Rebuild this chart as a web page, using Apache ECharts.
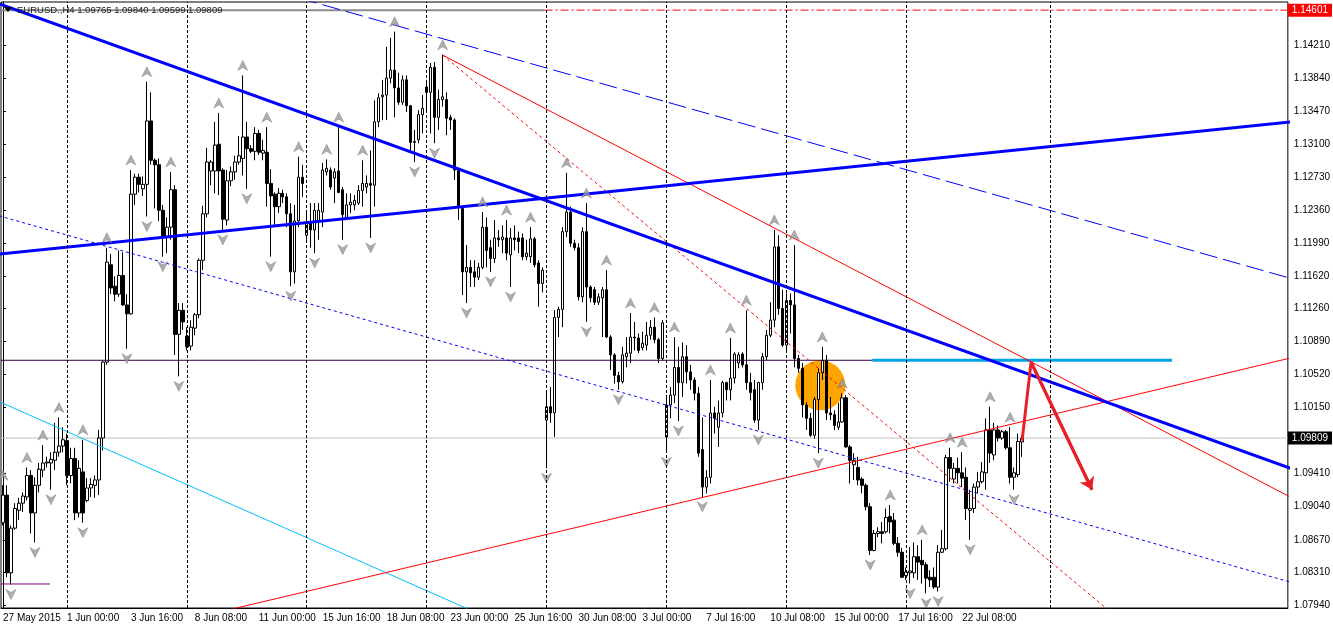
<!DOCTYPE html>
<html><head><meta charset="utf-8">
<script src="https://cdn.jsdelivr.net/npm/echarts@6/dist/echarts.min.js"></script>
<style>html,body{margin:0;padding:0;background:#fff}#c{width:1333px;height:627px}</style>
</head><body><div id="c"></div>
<script>
// ---- EURUSD H4 candles (27 May 2015 08:00 .. 24 Jul 2015 20:00) ----
const opens = [
1.0886,1.0917,1.0830,1.0880,1.0900,1.0908,1.0915,1.0939,1.0897,1.0928,
1.0945,1.0953,1.0953,1.0956,1.0965,1.0972,1.0978,1.0939,1.0958,1.0897,
1.0943,1.0911,1.0925,1.0928,1.0934,1.0981,1.1066,1.1175,1.1151,1.1142,
1.1163,1.1130,1.1120,1.1254,1.1273,1.1260,1.1265,1.1336,1.1292,1.1287,
1.1236,1.1206,1.1217,1.1259,1.1097,1.1124,1.1095,1.1084,1.1104,1.1119,
1.1180,1.1232,1.1280,1.1280,1.1310,1.1281,1.1225,1.1269,1.1279,1.1290,
1.1294,1.1318,1.1305,1.1302,1.1322,1.1300,1.1301,1.1266,1.1254,1.1240,
1.1255,1.1251,1.1232,1.1167,1.1224,1.1273,1.1208,1.1222,1.1214,1.1224,
1.1234,1.1279,1.1281,1.1272,1.1280,1.1259,1.1228,1.1242,1.1242,1.1244,
1.1258,1.1262,1.1266,1.1264,1.1335,1.1363,1.1365,1.1384,1.1393,1.1373,
1.1357,1.1382,1.1353,1.1312,1.1315,1.1343,1.1374,1.1368,1.1396,1.1340,
1.1360,1.1360,1.1340,1.1337,1.1281,1.1238,1.1167,1.1172,1.1167,1.1161,
1.1172,1.1217,1.1194,1.1182,1.1205,1.1203,1.1205,1.1186,1.1205,1.1205,
1.1205,1.1184,1.1184,1.1204,1.1177,1.1154,1.1001,1.1016,1.1009,1.1116,
1.1125,1.1212,1.1234,1.1199,1.1194,1.1139,1.1212,1.1150,1.1147,1.1133,
1.1138,1.1147,1.1094,1.1074,1.1051,1.1044,1.1072,1.1076,1.1094,1.1093,
1.1082,1.1085,1.1096,1.1105,1.1091,1.1070,1.0982,1.1018,1.1029,1.1060,
1.1043,1.1072,1.1055,1.1046,1.1031,1.0968,1.0926,1.0937,1.1009,1.0993,
1.1009,1.1043,1.1035,1.1048,1.1065,1.1075,1.1063,1.1043,1.1035,1.1001,
1.1043,1.1072,1.1096,1.1113,1.1195,1.1126,1.1085,1.1135,1.1130,1.1070,
1.1059,1.1018,1.1003,1.0984,1.1024,1.1054,1.1068,1.1009,1.1007,1.0993,
1.0999,1.1026,1.0971,1.0951,1.0948,1.0935,1.0928,1.0904,1.0855,1.0874,
1.0876,1.0876,1.0893,1.0889,1.0863,1.0853,1.0827,1.0830,1.0830,1.0848,
1.0844,1.0839,1.0825,1.0825,1.0814,1.0853,1.0857,1.0959,1.0935,1.0947,
1.0942,1.0937,1.0900,1.0902,1.0926,1.0932,1.0942,1.0990,1.0962,1.0990,
1.0981,1.0988,1.0970,1.0937,1.0940,1.09765];
const highs = [
1.0928,1.0928,1.0883,1.0908,1.0914,1.0920,1.0948,1.0945,1.0937,1.0953,
1.0973,1.0960,1.0965,1.0998,1.1004,1.0993,1.0986,1.0970,1.0970,1.0956,
1.0979,1.0936,1.0936,1.0939,1.0990,1.1068,1.1194,1.1187,1.1162,1.1191,
1.1189,1.1142,1.1281,1.1277,1.1277,1.1274,1.1380,1.1368,1.1294,1.1294,
1.1242,1.1228,1.1279,1.1264,1.1132,1.1132,1.1105,1.1113,1.1121,1.1182,
1.1241,1.1306,1.1292,1.1335,1.1345,1.1283,1.1281,1.1285,1.1297,1.1319,
1.1387,1.1335,1.1309,1.1329,1.1326,1.1315,1.1329,1.1282,1.1256,1.1261,
1.1259,1.1255,1.1244,1.1242,1.1296,1.1287,1.1234,1.1244,1.1244,1.1244,
1.1289,1.1293,1.1284,1.1283,1.1329,1.1262,1.1255,1.1255,1.1253,1.1264,
1.1292,1.1275,1.1303,1.1359,1.1367,1.1382,1.1419,1.1429,1.1436,1.1390,
1.1387,1.1387,1.1354,1.1326,1.1348,1.1365,1.1382,1.1401,1.1402,1.1371,
1.1410,1.1368,1.1343,1.1339,1.1284,1.1240,1.1197,1.1180,1.1180,1.1177,
1.1234,1.1228,1.1203,1.1225,1.1214,1.1219,1.1225,1.1216,1.1219,1.1212,
1.1210,1.1203,1.1217,1.1206,1.1180,1.1172,1.1032,1.1038,1.1124,1.1128,
1.1217,1.1278,1.1240,1.1203,1.1199,1.1217,1.1244,1.1152,1.1150,1.1143,
1.1150,1.1169,1.1096,1.1076,1.1055,1.1083,1.1094,1.1121,1.1111,1.1098,
1.1100,1.1111,1.1113,1.1116,1.1093,1.1113,1.1029,1.1038,1.1094,1.1083,
1.1088,1.1085,1.1063,1.1049,1.1038,1.1004,1.0945,1.1046,1.1016,1.1023,
1.1045,1.1044,1.1093,1.1077,1.1077,1.1077,1.1124,1.1054,1.1046,1.1044,
1.1076,1.1102,1.1133,1.1214,1.1208,1.1147,1.1143,1.1143,1.1197,1.1074,
1.1065,1.1021,1.1009,1.1027,1.1059,1.1083,1.1074,1.1027,1.1012,1.1020,
1.1031,1.1029,1.0973,1.0964,1.0960,1.0937,1.0930,1.0908,1.0878,1.0881,
1.0887,1.0902,1.0906,1.0897,1.0870,1.0858,1.0836,1.0859,1.0864,1.0861,
1.0867,1.0842,1.0833,1.0836,1.0861,1.0878,1.0962,1.0970,1.0953,1.0959,
1.0965,1.0948,1.0923,1.0930,1.0943,1.0954,1.1003,1.1016,1.0998,1.0995,
1.0990,1.0990,1.0993,1.0948,1.0986,1.09840];
const lows = [
1.0883,1.0825,1.0817,1.0878,1.0889,1.0898,1.0911,1.0874,1.0864,1.0920,
1.0937,1.0948,1.0923,1.0945,1.0960,1.0965,1.0928,1.0930,1.0889,1.0892,
1.0886,1.0909,1.0915,1.0914,1.0917,1.0967,1.1063,1.1142,1.1134,1.1139,
1.1129,1.1081,1.1119,1.1242,1.1256,1.1252,1.1229,1.1287,1.1238,1.1224,
1.1184,1.1188,1.1203,1.1074,1.1050,1.1102,1.1079,1.1079,1.1096,1.1115,
1.1169,1.1228,1.1264,1.1255,1.1253,1.1214,1.1219,1.1263,1.1270,1.1287,
1.1275,1.1260,1.1300,1.1292,1.1298,1.1292,1.1240,1.1184,1.1219,1.1233,
1.1244,1.1217,1.1151,1.1154,1.1217,1.1251,1.1203,1.1194,1.1188,1.1203,
1.1217,1.1275,1.1259,1.1244,1.1255,1.1203,1.1225,1.1233,1.1236,1.1242,
1.1240,1.1255,1.1205,1.1240,1.1329,1.1337,1.1337,1.1378,1.1340,1.1354,
1.1354,1.1346,1.1301,1.1290,1.1311,1.1322,1.1348,1.1322,1.1311,1.1326,
1.1352,1.1320,1.1326,1.1270,1.1225,1.1141,1.1132,1.1150,1.1150,1.1158,
1.1170,1.1172,1.1167,1.1177,1.1195,1.1188,1.1180,1.1150,1.1191,1.1188,
1.1180,1.1180,1.1177,1.1172,1.1128,1.1144,1.0947,1.0998,1.0982,1.1094,
1.1105,1.1206,1.1195,1.1191,1.1135,1.1133,1.1111,1.1133,1.1130,1.1130,
1.1094,1.1093,1.1057,1.1042,1.1035,1.1042,1.1060,1.1065,1.1079,1.1076,
1.1079,1.1079,1.1091,1.1087,1.1065,1.1068,1.0965,1.1003,1.1020,1.1000,
1.1027,1.1042,1.1035,1.1023,1.0960,1.0915,1.0919,1.0930,1.0986,1.0971,
1.1004,1.1023,1.1023,1.1042,1.1059,1.1060,1.1035,1.1023,1.0998,1.0990,
1.1035,1.1068,1.1094,1.1105,1.1119,1.1083,1.1079,1.1098,1.1060,1.1054,
1.1004,1.0990,1.0982,1.0980,1.0964,1.1046,1.1001,1.1001,1.0990,1.0990,
1.0998,1.0970,1.0930,1.0934,1.0928,1.0919,1.0900,1.0850,1.0854,1.0870,
1.0863,1.0874,1.0874,1.0861,1.0848,1.0824,1.0822,1.0818,1.0824,1.0822,
1.0818,1.0807,1.0814,1.0812,1.0809,1.0852,1.0855,1.0932,1.0930,1.0930,
1.0926,1.0889,1.0867,1.0897,1.0919,1.0930,1.0923,1.0953,1.0956,1.0977,
1.0979,1.0968,1.0930,1.0923,1.0937,1.09599];
const closes = [
1.0917,1.0830,1.0880,1.0902,1.0908,1.0916,1.0939,1.0897,1.0928,1.0946,
1.0953,1.0954,1.0957,1.0965,1.0972,1.0979,1.0939,1.0958,1.0897,1.0947,
1.0897,1.0925,1.0929,1.0934,1.0981,1.1066,1.1178,1.1149,1.1142,1.1163,
1.1130,1.1120,1.1254,1.1273,1.1265,1.1265,1.1336,1.1292,1.1287,1.1236,
1.1207,1.1217,1.1259,1.1097,1.1124,1.1111,1.1083,1.1105,1.1119,1.1180,
1.1232,1.1290,1.1290,1.1309,1.1280,1.1226,1.1269,1.1279,1.1290,1.1297,
1.1318,1.1305,1.1302,1.1322,1.1301,1.1303,1.1266,1.1252,1.1240,1.1255,
1.1251,1.1232,1.1167,1.1224,1.1273,1.1266,1.1222,1.1214,1.1236,1.1236,
1.1281,1.1283,1.1262,1.1279,1.1256,1.1231,1.1242,1.1245,1.1247,1.1258,
1.1266,1.1266,1.1264,1.1335,1.1362,1.1365,1.1384,1.1393,1.1373,1.1357,
1.1382,1.1353,1.1312,1.1313,1.1343,1.1350,1.1368,1.1396,1.1340,1.1360,
1.1363,1.1339,1.1337,1.1281,1.1240,1.1167,1.1172,1.1166,1.1161,1.1172,
1.1217,1.1191,1.1182,1.1205,1.1203,1.1206,1.1188,1.1205,1.1203,1.1201,
1.1184,1.1188,1.1204,1.1175,1.1154,1.1169,1.1016,1.1009,1.1116,1.1125,
1.1212,1.1234,1.1199,1.1194,1.1139,1.1212,1.1150,1.1138,1.1133,1.1139,
1.1147,1.1094,1.1074,1.1051,1.1044,1.1074,1.1076,1.1094,1.1093,1.1079,
1.1087,1.1096,1.1105,1.1091,1.1070,1.1110,1.1018,1.1029,1.1060,1.1043,
1.1072,1.1055,1.1046,1.1031,1.0964,1.0926,1.0937,1.1009,1.1003,1.1009,
1.1043,1.1035,1.1048,1.1075,1.1074,1.1063,1.1043,1.1032,1.1001,1.1043,
1.1072,1.1096,1.1113,1.1195,1.1126,1.1085,1.1135,1.1130,1.1070,1.1059,
1.1018,1.1003,1.0984,1.1024,1.1054,1.1068,1.1009,1.1007,1.0995,1.0999,
1.1026,1.0971,1.0956,1.0956,1.0934,1.0928,1.0904,1.0855,1.0874,1.0876,
1.0874,1.0892,1.0887,1.0863,1.0853,1.0825,1.0831,1.0832,1.0848,1.0842,
1.0839,1.0824,1.0822,1.0814,1.0853,1.0857,1.0959,1.0947,1.0947,1.0942,
1.0936,1.0902,1.0902,1.0926,1.0932,1.0943,1.0990,1.0964,1.0990,1.0981,
1.0988,1.0970,1.0937,1.0942,1.0977,1.09809];

// Fractal indicator marks (bar indices)
const upFractalBars = [0,6,10,14,20,26,32,36,42,54,60,66,74,81,84,90,98,110,120,126,132,141,146,151,157,163,168,177,182,186,193,198,205,210,222,230,237,240,247,252];
const downFractalBars = [2,8,12,20,31,36,40,44,55,61,67,72,78,85,92,103,108,116,122,127,136,146,154,166,169,175,189,204,217,227,231,234,242,253];

// Axis ticks / labels
const yTickValues = [1.07940,1.08310,1.08670,1.09040,1.09410,1.10150,1.10520,1.10890,1.11260,1.11620,1.11990,1.12360,1.12730,1.13100,1.13470,1.13840,1.14210];
const xTickTimes = ['2015-05-27 08:00','2015-06-01 00:00','2015-06-03 16:00','2015-06-08 08:00','2015-06-11 00:00','2015-06-15 16:00','2015-06-18 08:00','2015-06-23 00:00','2015-06-25 16:00','2015-06-30 08:00','2015-07-03 00:00','2015-07-07 16:00','2015-07-10 08:00','2015-07-15 00:00','2015-07-17 16:00','2015-07-22 08:00'];
const xTickTexts = ['27 May 2015','1 Jun 00:00','3 Jun 16:00','8 Jun 08:00','11 Jun 00:00','15 Jun 16:00','18 Jun 08:00','23 Jun 00:00','25 Jun 16:00','30 Jun 08:00','3 Jul 00:00','7 Jul 16:00','10 Jul 08:00','15 Jul 00:00','17 Jul 16:00','22 Jul 08:00'];
const separatorTimes = ['2015-06-01 00:00','2015-06-08 00:00','2015-06-15 00:00','2015-06-22 00:00','2015-06-29 00:00','2015-07-06 00:00','2015-07-13 00:00','2015-07-20 00:00','2015-07-28 00:00'];

// Drawn objects: anchors as [bar index, price]
const lineBlueDown = [[0,1.14657],[250,1.10632]];
const lineBlueUp = [[0,1.11873],[300,1.13248]];
const lineBlueDashUpper = [[100,1.14408],[300,1.11878]];
const lineBlueDotLower = [[0,1.12285],[300,1.08477]];
const lineCyan = [[0,1.10198],[100,1.08219]];
const lineRedUpper = [[110,1.14098],[300,1.09664]];
const lineRedDotted = [[110,1.14098],[250,1.08875]];
const lineRedRising = [[100,1.08347],[300,1.10470]];
const priceBid = 1.09809;
const priceTopLevel = 1.14601;
const topLevelSplitBar = 135.5;
const priceResistance = 1.1068;
const resistanceSplitBar = 217.5;
const resistanceEndBar = 292.5;
const priceFirstLow = 1.08175;
const firstLowEndBar = 11.75;
const redArrowPath = [[255,1.0978],[257.25,1.1066],[272.5,1.0923]];
const orangeMark = [204.5,1.1040];
const headerText = 'EURUSD.,H4 1.09765 1.09840 1.09599 1.09809';

// ---- build ----
const SLOTS = 322;
function pad(n){return (n<10?'0':'')+n;}
const slotTimes = [];
(function(){
  let t = Date.UTC(2015,4,27,8);
  while(slotTimes.length < SLOTS){
    const d = new Date(t), wd = d.getUTCDay();
    if(wd !== 0 && wd !== 6) slotTimes.push(d.getUTCFullYear()+'-'+pad(d.getUTCMonth()+1)+'-'+pad(d.getUTCDate())+' '+pad(d.getUTCHours())+':00');
    t += 4*3600e3;
  }
})();
const tickMap = {}; xTickTimes.forEach((t,i)=>tickMap[t]=xTickTexts[i]);
const candles = opens.map((o,i)=>[o, closes[i], lows[i], highs[i]]);
const XMIN = -0.5, XMAX = SLOTS - 0.5;
function extend(a, x0, x1){
  const s = (a[1][1]-a[0][1])/(a[1][0]-a[0][0]);
  return [[x0, a[0][1]+s*(x0-a[0][0])],[x1, a[0][1]+s*(x1-a[0][0])]];
}
function seg(data, color, width, type, z){
  return {type:'line', xAxisIndex:1, yAxisIndex:0, data:data, symbol:'none', silent:true, animation:false,
    lineStyle:{color:color, width:width, type:type||'solid'}, z:z||3, clip:true};
}
const FONT = 'Liberation Sans, Arial, sans-serif';

const chart = echarts.init(document.getElementById('c'), null, {renderer:'canvas'});
chart.setOption({
  animation:false,
  backgroundColor:'#ffffff',
  textStyle:{fontFamily:FONT},
  grid:{left:1, top:2, width:1288, height:606, show:true, borderColor:'#000', borderWidth:1, backgroundColor:'#fff'},
  xAxis:[
    {type:'category', data:slotTimes, boundaryGap:true,
     axisLine:{show:true, lineStyle:{color:'#000'}}, axisTick:{show:false}, splitLine:{show:false},
     axisLabel:{interval:function(i,v){return tickMap[v]!==undefined;}, formatter:function(v){return tickMap[v]||'';},
       align:'left', color:'#000', fontSize:10, fontFamily:FONT, margin:5}},
    {type:'value', min:XMIN, max:XMAX, show:false}
  ],
  yAxis:{type:'value', position:'right', min:1.07906, max:1.14692, scale:true,
    splitLine:{show:false}, axisLine:{show:true, lineStyle:{color:'#000'}},
    axisTick:{show:true, length:3, customValues:yTickValues, lineStyle:{color:'#000'}},
    axisLabel:{customValues:yTickValues, formatter:function(v){return v.toFixed(5);}, color:'#000', fontSize:10, fontFamily:FONT, margin:6}},
  graphic:[
    {type:'polygon', z:100, shape:{points:[[4,7],[12,7],[8,12]]}, style:{fill:'#000'}},
    {type:'text', z:100, left:17, top:5, style:{text:headerText, fill:'#222', font:'9.5px '+FONT}}
  ],
  series:[
    {type:'scatter', xAxisIndex:1, data:[orangeMark], symbolSize:50, itemStyle:{color:'#ffa500', opacity:1}, z:1, silent:true},
    {type:'candlestick', xAxisIndex:0, data:candles, barWidth:3, z:2,
     itemStyle:{color:'#ffffff', color0:'#000000', borderColor:'#000000', borderColor0:'#000000', borderWidth:1},
     markLine:{silent:true, symbol:['none','none'], label:{show:false}, animation:false,
       lineStyle:{color:'#000', width:1, type:[3,2]},
       data:separatorTimes.map(function(t){return {xAxis:t};})}},
    Object.assign(seg([[XMIN,priceBid],[XMAX,priceBid]], '#c0c0c0', 1, 'solid', 2), {
      endLabel:{show:true, formatter:function(){return priceBid.toFixed(5);}, color:'#fff', backgroundColor:'#000',
        padding:[2,4,1,4], distance:0, fontSize:10, fontFamily:FONT}}),
    seg([[XMIN,priceTopLevel],[topLevelSplitBar,priceTopLevel]], '#8c8c8c', 2, 'solid', 3),
    Object.assign(seg([[topLevelSplitBar,priceTopLevel],[XMAX,priceTopLevel]], '#ff0000', 1, [8,3,2,3], 3), {
      endLabel:{show:true, formatter:function(){return priceTopLevel.toFixed(5);}, color:'#fff', backgroundColor:'#ff0000',
        padding:[2,4,1,4], distance:0, fontSize:10, fontFamily:FONT}}),
    seg([[XMIN,priceResistance],[resistanceSplitBar,priceResistance]], '#2e0048', 1, 'solid', 3),
    seg([[resistanceSplitBar,priceResistance],[resistanceEndBar,priceResistance]], '#00a2e8', 3, 'solid', 3),
    seg([[XMIN,priceFirstLow],[firstLowEndBar,priceFirstLow]], '#800080', 1, 'solid', 3),
    seg(extend(lineCyan,-1,330), '#00bfff', 1, 'solid', 3),
    seg(extend(lineBlueDotLower,-1,330), '#0000ff', 1, [3,3], 3),
    seg(extend(lineBlueDashUpper,-1,330), '#0000ff', 1, [18,6], 3),
    seg(extend(lineRedRising,-1,330), '#ff0000', 1, 'solid', 3),
    seg(extend(lineRedUpper,lineRedUpper[0][0],330), '#ff0000', 1, 'solid', 3),
    seg(extend(lineRedDotted,lineRedDotted[0][0],330), '#ff0000', 1, [3,3], 3),
    seg(extend(lineBlueUp,-1,330), '#0000ff', 3, 'solid', 3),
    seg(extend(lineBlueDown,-1,330), '#0000ff', 3, 'solid', 3),
    seg(redArrowPath, '#e8202a', 3, 'solid', 5),
    {type:'lines', coordinateSystem:'cartesian2d', xAxisIndex:1, yAxisIndex:0, polyline:false,
     symbol:['none','arrow'], symbolSize:12, silent:true, z:5,
     lineStyle:{color:'#e8202a', width:3, opacity:1},
     data:[{coords:[redArrowPath[1], redArrowPath[2]]}]},
    {type:'scatter', xAxisIndex:1, silent:true, z:4,
     data:upFractalBars.map(function(i){return [i, highs[i]];}),
     symbol:'path://M5,0L10,10L5,7L0,10Z', symbolSize:[10,10], symbolOffset:[0,-10],
     itemStyle:{color:'#9a9a9a', borderColor:'#6f6f6f', borderWidth:0.5}},
    {type:'scatter', xAxisIndex:1, silent:true, z:4,
     data:downFractalBars.map(function(i){return [i, lows[i]];}),
     symbol:'path://M0,0L5,3L10,0L5,10Z', symbolSize:[10,10], symbolOffset:[0,10],
     itemStyle:{color:'#9a9a9a', borderColor:'#6f6f6f', borderWidth:0.5}}
  ]
});
</script>
</body></html>
